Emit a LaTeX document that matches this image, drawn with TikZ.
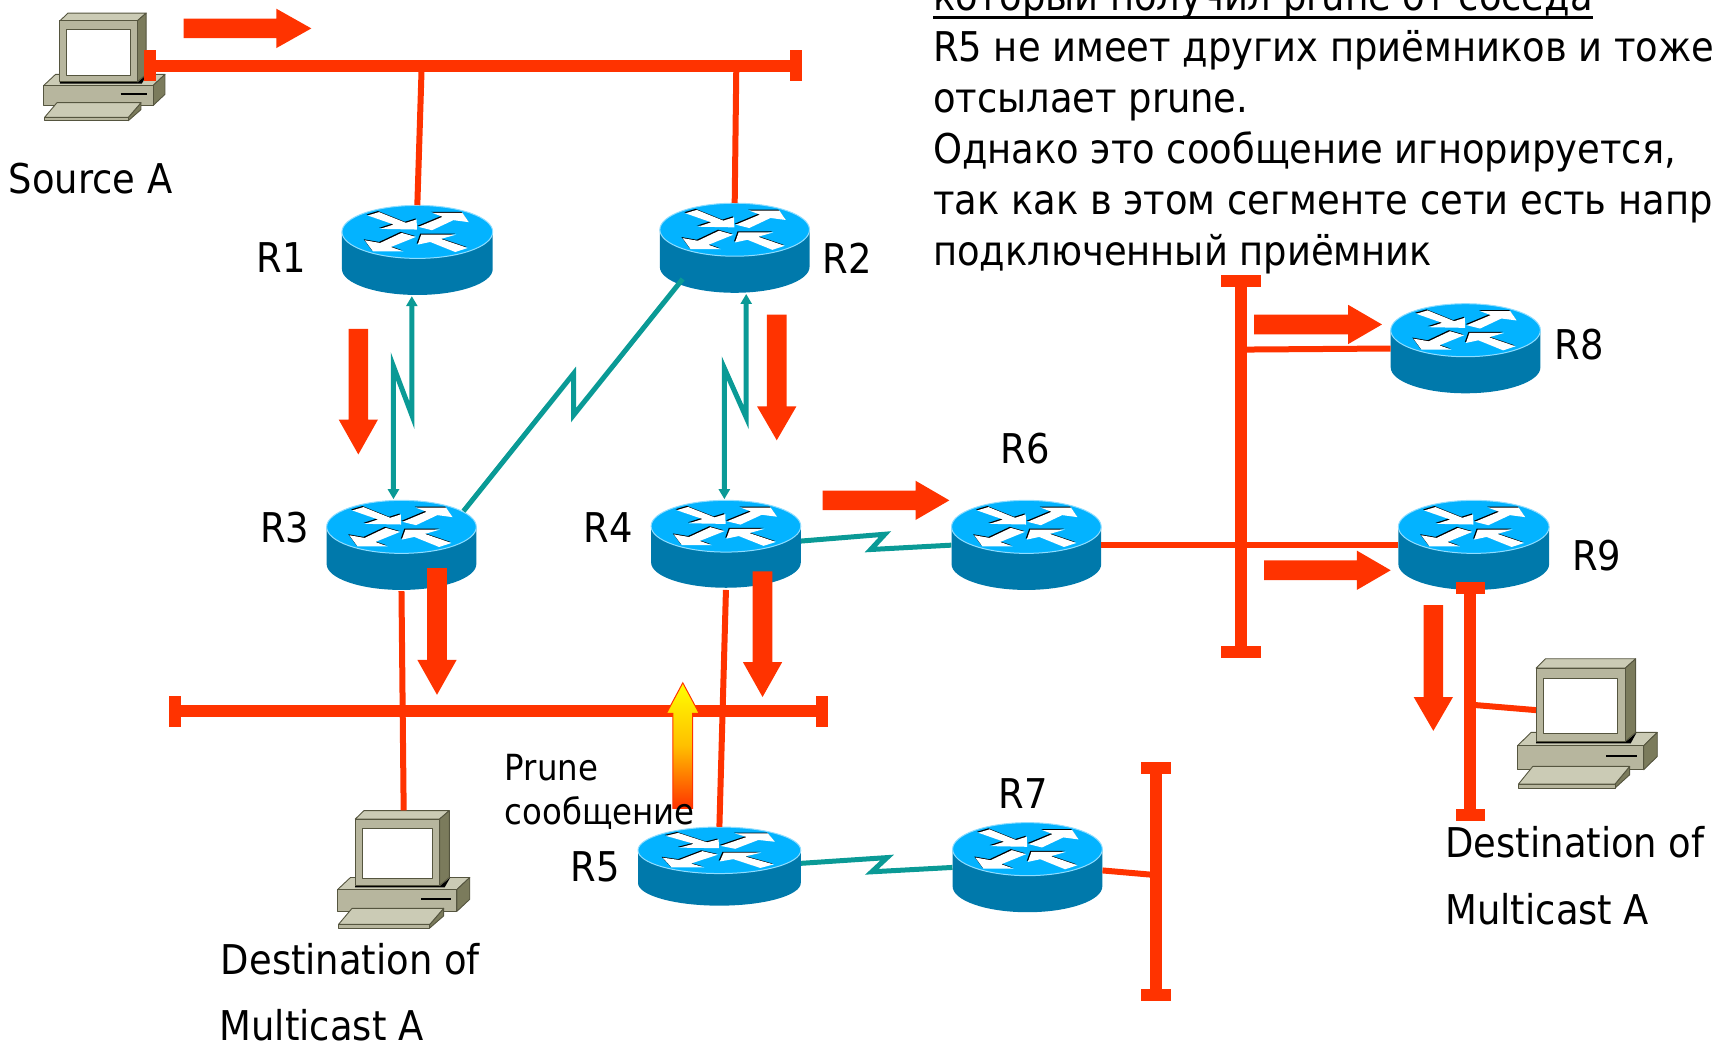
\documentclass[tikz,border=0pt]{standalone}
\usepackage{fontspec}
\setmainfont{DejaVu Sans Condensed}
\usetikzlibrary{arrows.meta,fit}
\definecolor{netred}{HTML}{FF3300}
\definecolor{netteal}{HTML}{0A9A96}
\definecolor{rtop}{HTML}{03B3FF}
\definecolor{rside}{HTML}{0079AB}
\definecolor{rrim}{HTML}{8FDDFF}
\definecolor{pcfront}{HTML}{B7B69E}
\definecolor{pctop}{HTML}{CBCBB5}
\definecolor{pcside}{HTML}{7B7B5C}
\definecolor{pcline}{HTML}{55553F}
\tikzset{
  x=1.0925pt,y=-1.0925pt,
  thinlink/.style={draw=netred,line width=6pt},
  serial/.style={draw=netteal,line width=5pt,line join=miter},
  arrowlink/.style={serial,{Triangle[length=10pt,width=11pt]}-{Triangle[length=10pt,width=11pt]}},
  busfill/.style={fill=netred,draw=none},
  lbl/.style={anchor=base west,inner sep=0pt,font=\fontsize{41}{41}\selectfont},
  smalllbl/.style={anchor=base west,inner sep=0pt,font=\fontsize{36}{36}\selectfont},
  boxonly/.style={inner sep=0pt,draw=none},
  pcedge/.style={draw=pcline,line width=0.9pt,line join=round},
}
% #1 name, #2 x1, #3 x2, #4 top, #5 bottom
\newcommand{\netrouter}[5]{%
  \begin{scope}[shift={(#2,#4)},xscale={(#3-#2)/422},yscale={(#5-#4)/267}]
    \fill[rside] (0,79) -- (0,190) .. controls (0,232) and (94,267) .. (211,267)
      .. controls (328,267) and (422,232) .. (422,190) -- (422,79) -- cycle;
    \fill[rtop,draw=rrim,line width=1pt] (211,79) ellipse [x radius=211,y radius=79];
    \foreach \dx/\col in {-3/black,0/white}{
      \fill[\col,shift={(\dx,\dx)}] (72,30)--(104,20)--(179,52)--(209,42)--(210,72)--(107,70)--(145,57)--cycle;
      \fill[\col,shift={(\dx,\dx)}] (355,50)--(337,22)--(252,22)--(282,34)--(214,64)--(252,74)--(312,44)--cycle;
      \fill[\col,shift={(\dx,\dx)}] (64,104)--(87,137)--(172,137)--(137,124)--(207,94)--(167,82)--(107,112)--cycle;
      \fill[\col,shift={(\dx,\dx)}] (352,127)--(317,139)--(247,109)--(212,117)--(222,87)--(320,87)--(277,100)--cycle;
    }
  \end{scope}
  \node[boxonly,fit={(#2,#4)(#3,#5)}] (#1) {};
}
% #1 name, #2 x1, #3 x2, #4 top, #5 bottom
\newcommand{\netpc}[5]{%
  \begin{scope}[shift={(#2,#4)},xscale={(#3-#2)/420},yscale={(#5-#4)/390}]
    \filldraw[pcedge,fill=pctop] (0,261)--(41,221)--(420,221)--(379,261)--cycle;
    \filldraw[pcedge,fill=pcside] (379,261)--(420,221)--(420,293)--(379,333)--cycle;
    \filldraw[pcedge,fill=pcfront] (0,261) rectangle (379,333);
    \draw[black,line width=2pt] (266,293)--(359,293);
    \filldraw[pcedge,fill=pcside] (293,376)--(337,323)--(337,348)--(293,388)--cycle;
    \filldraw[pcedge,fill=pcfront] (3,376) rectangle (293,388);
    \filldraw[pcedge,fill=pctop] (3,376)--(46,323)--(337,323)--(293,376)--cycle;
    \fill[black] (56,248)--(326,248)--(358,221)--(340,254)--(56,254)--cycle;
    \filldraw[pcedge,fill=pctop] (56,28)--(84,0)--(355,0)--(324,28)--cycle;
    \filldraw[pcedge,fill=pcside] (324,28)--(355,0)--(355,221)--(324,248)--cycle;
    \filldraw[pcedge,fill=pcfront] (56,28) rectangle (324,248);
    \filldraw[pcedge,fill=white] (79,58) rectangle (300,224);
  \end{scope}
  \node[boxonly,fit={(#2,#4)(#3,#5)}] (#1) {};
}
% #1 name, #2 x1, #3 x2, #4 y
\newcommand{\hbus}[4]{%
  \fill[busfill] (#2,#4-5.5) rectangle (#3,#4+5.5);
  \fill[busfill] (#2-5.5,#4-14) rectangle (#2+5.5,#4+14);
  \fill[busfill] (#3-5.5,#4-14) rectangle (#3+5.5,#4+14);
}
% #1 name, #2 x, #3 y1, #4 y2, #5 half cap
\newcommand{\vbus}[5]{%
  \fill[busfill] (#2-5.5,#3) rectangle (#2+5.5,#4);
  \fill[busfill] (#2-#5,#3-5.5) rectangle (#2+#5,#3+5.5);
  \fill[busfill] (#2-#5,#4-5.5) rectangle (#2+#5,#4+5.5);
}
% down arrow: cx, y start, y head base, y tip
\newcommand{\downflow}[4]{%
  \fill[netred] (#1-9,#2)--(#1+9,#2)--(#1+9,#3)--(#1+18,#3)--(#1,#4)--(#1-18,#3)--(#1-9,#3)--cycle;
}
% right arrow: cy, x start, x head base, x tip
\newcommand{\rightflow}[4]{%
  \fill[netred] (#2,#1-9)--(#2,#1+9)--(#3,#1+9)--(#3,#1+18)--(#4,#1)--(#3,#1-18)--(#3,#1-9)--cycle;
}
\begin{document}
\begin{tikzpicture}
\useasboundingbox (0,0) rectangle (1568,955);
\clip (0,0) rectangle (1568,955);

% routers
\netrouter{R1}{313}{451}{188}{270}
\netrouter{R2}{604}{741}{186}{268}
\netrouter{R3}{299}{436}{458}{540}
\netrouter{R4}{596}{733}{458}{538}
\netrouter{R5}{584}{733}{757}{829}
\netrouter{R6}{871}{1008}{458}{540}
\netrouter{R7}{872}{1009}{753}{835}
\netrouter{R8}{1273}{1410}{278}{360}
\netrouter{R9}{1280}{1418}{458}{540}

% computers
\netpc{PCA}{40}{151}{12}{111}
\netpc{PCB}{309}{430}{742}{850}
\netpc{PCC}{1389}{1517}{603}{722}

% bus attachment points
\coordinate (busAa) at (386,60);
\coordinate (busAb) at (674,60);
\coordinate (busBr) at (1136,320);
\coordinate (busCp) at (1346,645);
\coordinate (busDr) at (1058,801);
\coordinate (pcCin) at (1406,650);

% thin links
\draw[thinlink] (busAa) -- (R1.north);
\draw[thinlink] (busAb) -- (R2.north);
\draw[thinlink] ([yshift=-1pt]R3.south) -- (PCB.north);
\draw[thinlink] ([yshift=-2pt]R4.south) -- (R5.north);
\draw[thinlink] (R6.east) -- (R9.west);
\draw[thinlink] (busBr) -- (R8.west);
\draw[thinlink] (busCp) -- (pcCin);
\draw[thinlink] ([yshift=-3pt]R7.east) -- (busDr);

% serial links
\draw[arrowlink] ([xshift=-5.5pt,yshift=-1pt]R1.south) -- (377,380) -- (360,335) -- ([xshift=-8pt,yshift=1pt]R3.north);
\draw[arrowlink] ([xshift=11.5pt,yshift=-1pt]R2.south) -- (683,382) -- (663,337) -- ([xshift=-1.6pt,yshift=1pt]R4.north);
\draw[serial] ([xshift=-52pt,yshift=14pt]R2.south) -- (525,380) -- (525,342) -- ([xshift=62pt,yshift=-11pt]R3.north);
\draw[serial] ([yshift=3pt]R4.east) -- (810,489) -- (797,503) -- (R6.west);
\draw[serial] ([yshift=3pt]R5.east) -- (812,785) -- (798,798) -- (R7.west);

% buses
\hbus{busA}{137}{729}{60}
\hbus{busE}{160}{752}{651}
\vbus{busB}{1136}{257}{597}{18}
\vbus{busC}{1346}{538}{746}{13.5}
\vbus{busD}{1058}{703}{911}{14}

% flow arrows
\rightflow{26}{168}{253}{285}
\downflow{328}{301}{384}{416}
\downflow{711}{288}{372}{403}
\downflow{400}{520}{604}{636}
\downflow{698}{523}{606}{638}
\rightflow{458}{753}{838}{869}
\rightflow{297}{1148}{1234}{1265}
\rightflow{522}{1157}{1242}{1273}
\downflow{1312}{554}{638}{669}

% prune arrow
\path[draw=netred,line width=1pt,top color=yellow,bottom color=netred,middle color=yellow!50!orange]
  (616,740)--(634,740)--(634,653)--(640,653)--(625,625)--(610,653)--(616,653)--cycle;

% labels
\node[lbl] (lsrc) at (8,177) {Source A};
\node[lbl] (l1) at (235,249) {R1};
\node[lbl] (l2) at (753,250) {R2};
\node[lbl] (l3) at (238,497) {R3};
\node[lbl] (l4) at (534,497) {R4};
\node[lbl] (l5) at (522,807) {R5};
\node[lbl] (l6) at (916,424) {R6};
\node[lbl] (l7) at (914,740) {R7};
\node[lbl] (l8) at (1423,329) {R8};
\node[lbl] (l9) at (1439,522) {R9};
\node[smalllbl] (lp1) at (462,714) {Prune};
\node[smalllbl] (lp2) at (462,755) {сообщение};
\node[lbl] (d1a) at (202,892) {Destination of};
\node[lbl] (d1b) at (201,952) {Multicast A};
\node[lbl] (d2a) at (1323,785) {Destination of};
\node[lbl] (d2b) at (1323,846) {Multicast A};

\node[lbl] (t0) at (854,10) {\vtop{\hbox{\smash{который получил prune от соседа}}\kern5pt\hrule height 3pt}};
\node[lbl] (t1) at (854,56.5) {R5 не имеет других приёмников и тоже};
\node[lbl] (t2) at (854,103) {отсылает prune.};
\node[lbl] (t3) at (854,149.7) {Однако это сообщение игнорируется,};
\node[lbl] (t4) at (854,196.4) {так как в этом сегменте сети есть напря};
\node[lbl] (t5) at (854,243) {подключенный приёмник};
\end{tikzpicture}
\end{document}
